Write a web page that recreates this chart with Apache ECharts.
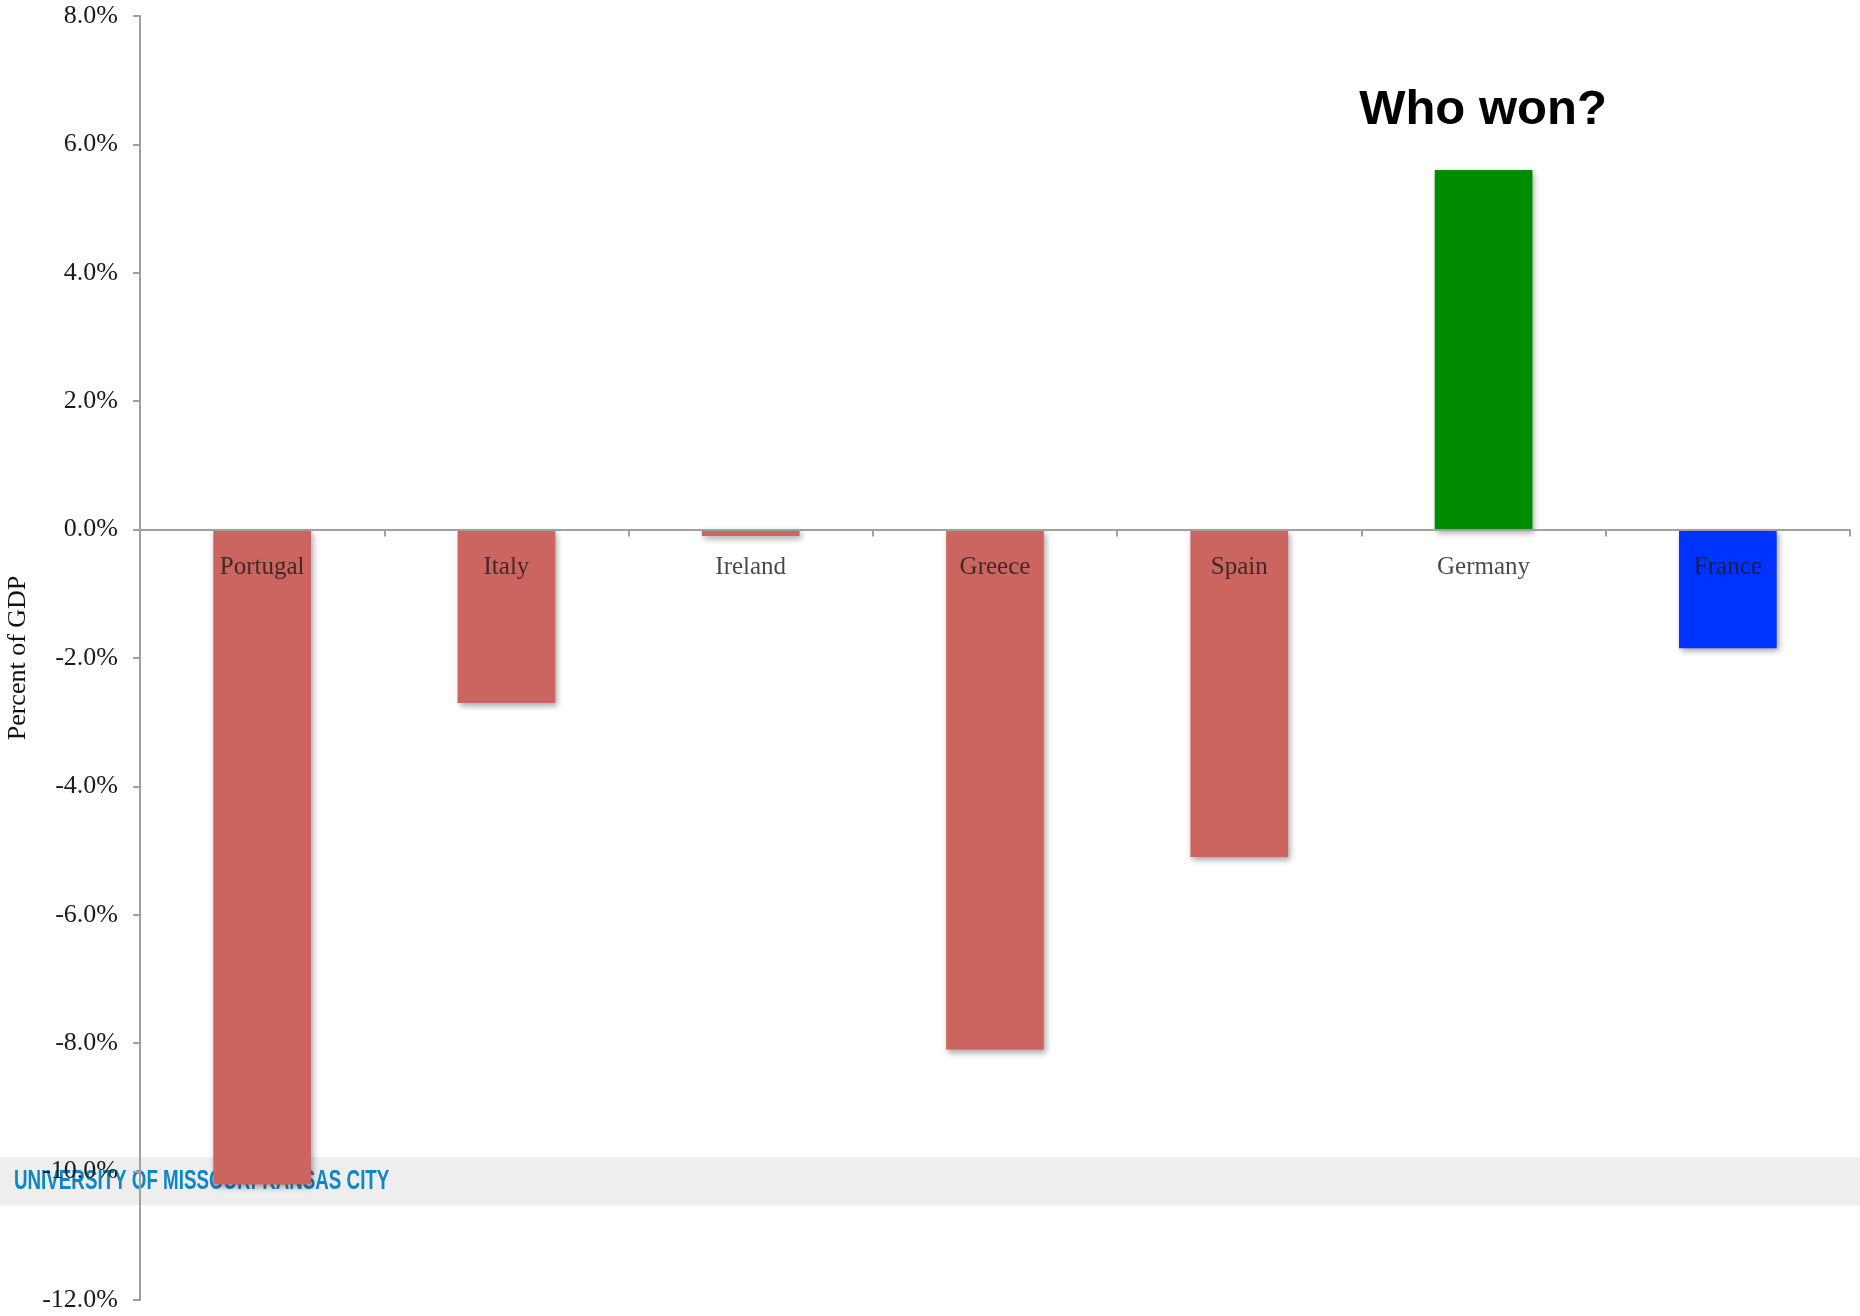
<!DOCTYPE html>
<html>
<head>
<meta charset="utf-8">
<script src="https://cdn.jsdelivr.net/npm/echarts@6/dist/echarts.min.js"></script>
<style>html,body{margin:0;padding:0;background:#fff}#c{width:1860px;height:1316px}</style>
</head>
<body>
<div id="c"></div>
<script>
const countries = ['Portugal','Italy','Ireland','Greece','Spain','Germany','France'];
const values = [-10.2, -2.7, -0.1, -8.1, -5.1, 5.6, -1.85];
const barColors = ['#CC6560','#CC6560','#CC6560','#CC6560','#CC6560','#008C00','#0033FF'];
const yTicks = {min: -12, max: 8, interval: 2};
const axisTitle = 'Percent of GDP';
const headline = 'Who won?';
const banner = 'UNIVERSITY OF MISSOURI-KANSAS CITY';

const serif = '"Liberation Serif", "DejaVu Serif", serif';
const chart = echarts.init(document.getElementById('c'), null, {renderer: 'canvas'});
chart.setOption({
  backgroundColor: '#fff',
  animation: false,
  grid: {left: 140, right: 10, top: 16, bottom: 16, containLabel: false, outerBoundsMode: 'none'},
  graphic: [
    {type: 'rect', z: -10, left: 0, top: 1157, shape: {width: 1860, height: 48}, style: {fill: '#eeeeee'}},
    {type: 'text', z: -9, x: 14, y: 1182, scaleX: 0.695,
      style: {text: banner, fill: '#0a86c9', font: 'bold 27px "Liberation Sans", Arial, sans-serif', verticalAlign: 'middle'}},
    {type: 'text', z: 20, x: 1483, y: 110,
      style: {text: headline, fill: '#000', font: 'bold 49px "Liberation Sans", Arial, sans-serif', align: 'center', verticalAlign: 'middle'}}
  ],
  xAxis: {
    type: 'category', data: countries, z: 5,
    axisLine: {onZero: true, lineStyle: {color: '#a0a0a0', width: 2}},
    axisTick: {show: true, length: 7, lineStyle: {color: '#a0a0a0', width: 2}},
    axisLabel: {show: false},
    splitLine: {show: false}
  },
  yAxis: {
    type: 'value', min: yTicks.min, max: yTicks.max, interval: yTicks.interval,
    name: axisTitle, nameLocation: 'middle', nameRotate: 90, nameGap: 104,
    nameTextStyle: {color: '#111', fontSize: 26, fontFamily: serif},
    axisLine: {show: true, lineStyle: {color: '#a0a0a0', width: 2}},
    axisTick: {show: true, length: 7, lineStyle: {color: '#a0a0a0', width: 2}},
    axisLabel: {margin: 22, color: '#1a1a1a', fontSize: 26, fontFamily: serif, padding: [7, 0, 0, 0],
      formatter: v => v.toFixed(1) + '%'},
    splitLine: {show: false}
  },
  series: [{
    type: 'bar',
    data: values.map((v, i) => ({value: v, itemStyle: {color: barColors[i]}})),
    barWidth: '40%',
    itemStyle: {shadowBlur: 6, shadowColor: 'rgba(0,0,0,0.35)', shadowOffsetX: 2, shadowOffsetY: 3}
  }, {
    type: 'scatter', z: 10, symbolSize: 0, silent: true,
    data: countries.map(c => [c, 0]),
    label: {show: true, position: 'bottom', distance: 25, color: '#1a1a1a', fontSize: 25, fontFamily: serif,
      formatter: p => p.name || p.value[0]}
  }]
});
</script>
</body>
</html>
